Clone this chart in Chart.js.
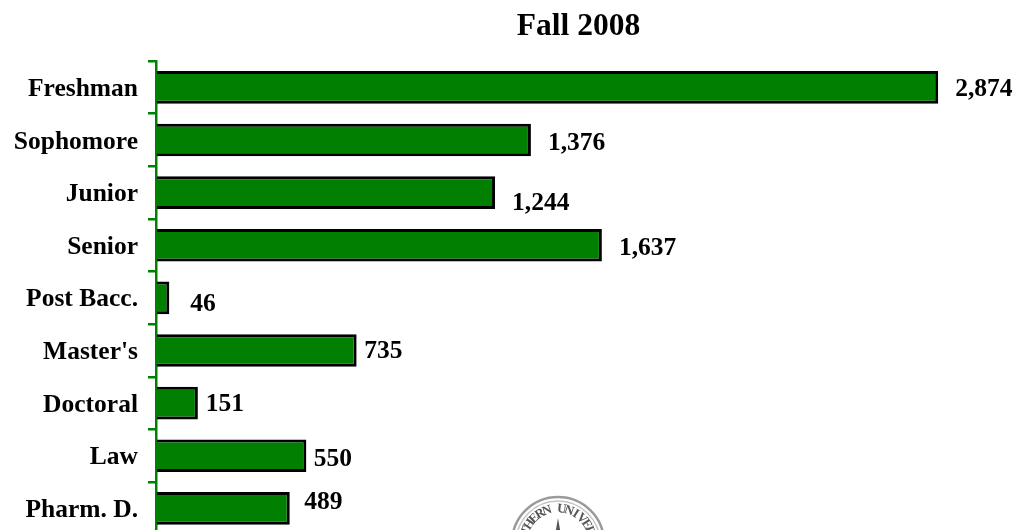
<!DOCTYPE html>
<html><head><meta charset="utf-8">
<style>html,body{margin:0;padding:0;background:#fff;overflow:hidden;height:530px}canvas{display:block}</style>
<script src="https://cdn.jsdelivr.net/npm/chart.js@4"></script></head>
<body><canvas id="c" width="1017" height="560"></canvas>
<script>
const categories = ["Freshman","Sophomore","Junior","Senior","Post Bacc.","Master's","Doctoral","Law","Pharm. D."];
const enrollment = [2874,1376,1244,1637,46,735,151,550,489];
const chartTitle = "Fall 2008";
const sealText = "SOUTHERN UNIVERSITY";
const labelFont = 'bold 25.5px "Liberation Serif"';
const labelShift = [[17,2],[17,3],[17,11],[17,3],[21,7],[7.5,1],[8,1],[7.5,4],[14.5,-6]];

const valueLabels = {id:'valueLabels',afterDatasetsDraw(chart){
  const {ctx}=chart; const meta=chart.getDatasetMeta(0);
  ctx.save();ctx.font=labelFont;ctx.fillStyle='#000';ctx.textAlign='left';ctx.textBaseline='middle';
  meta.data.forEach((b,i)=>{
    ctx.fillText(enrollment[i].toLocaleString('en-US'),b.x+labelShift[i][0],b.y+labelShift[i][1]);
  });
  ctx.restore();
}};
const seal = {id:'seal',afterDraw(chart){
  const {ctx}=chart; const cx=558,cy=543,r=46;
  ctx.save();
  ctx.strokeStyle='#9a9a9a';ctx.lineWidth=2.5;
  ctx.beginPath();ctx.arc(cx,cy,r,0,Math.PI*2);ctx.stroke();
  ctx.strokeStyle='#c5c5c5';ctx.lineWidth=1.5;
  ctx.beginPath();ctx.arc(cx,cy,r-4,0,Math.PI*2);ctx.stroke();
  ctx.fillStyle='#555';ctx.font='bold 13px "Liberation Serif"';ctx.textAlign='center';ctx.textBaseline='middle';
  const chars=sealText.split('');const step=0.22;
  chars.forEach((ch,i)=>{
    const a=-Math.PI/2+(i-(chars.length-1)/2+0.5)*step;
    ctx.save();ctx.translate(cx+Math.cos(a)*(r-12),cy+Math.sin(a)*(r-12));ctx.rotate(a+Math.PI/2);ctx.fillText(ch,0,0);ctx.restore();
  });
  ctx.fillStyle='#555';ctx.beginPath();
  for(let i=0;i<10;i++){const a=-Math.PI/2+i*Math.PI/5;const q=i%2?6:25;const x=cx+Math.cos(a)*q,y=cy+Math.sin(a)*q;i?ctx.lineTo(x,y):ctx.moveTo(x,y);}
  ctx.closePath();ctx.fill();
  ctx.restore();
}};
new Chart(document.getElementById('c'),{
  type:'bar',
  data:{labels:categories,datasets:[{data:enrollment,backgroundColor:'#007f00',borderColor:'#000',borderWidth:3,barPercentage:0.62,categoryPercentage:1}]},
  plugins:[valueLabels,seal],
  options:{
    indexAxis:'y',responsive:false,animation:false,
    layout:{padding:{top:0,right:16,bottom:25,left:0}},
    plugins:{legend:{display:false},tooltip:{enabled:false},title:{display:false}},
    scales:{
      x:{position:'top',min:-3,max:3105,
        afterFit(s){s.height=61;},
        grid:{display:false},border:{display:false},ticks:{display:false},
        title:{display:true,text:chartTitle,color:'#000',font:{family:'"Liberation Serif"',size:31.5,weight:'bold'},padding:{top:8,bottom:0}}},
      y:{afterFit(s){s.width=156;},
        grid:{drawOnChartArea:false,color:'#008000',lineWidth:2.5,tickLength:8,offset:true},
        border:{color:'#008000',width:2.5},
        ticks:{color:'#000',padding:10,labelOffset:2,font:{family:'"Liberation Serif"',size:25.5,weight:'bold'}}}
    }
  }
});
</script></body></html>
